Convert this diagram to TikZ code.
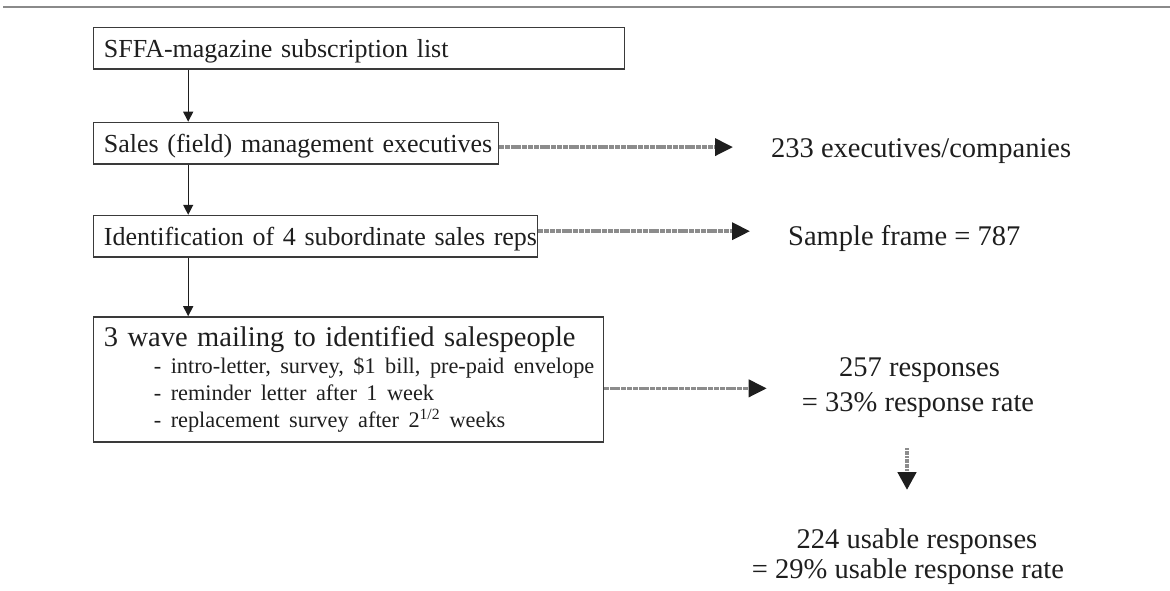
\documentclass[tikz,border=0pt]{standalone}
\usepackage{fontspec}
\setmainfont{Liberation Serif}
\usetikzlibrary{arrows.meta}

\definecolor{ink}{HTML}{1E1E1E}
\definecolor{frame}{HTML}{3A3A3A}
\definecolor{rulegray}{HTML}{8A8A8A}
\definecolor{flowgray}{HTML}{8C8C8C}

\tikzset{
  stepbox/.style={draw=frame, line width=1.3pt, anchor=north west, align=left,
    inner xsep=10.5pt, inner ysep=0pt, text=ink,
    font=\fontsize{26}{27}\selectfont},
  onelinebox/.style={stepbox, text height=30.5pt, text depth=11pt},
  result/.style={inner sep=0pt, text=ink, font=\fontsize{28.5}{34}\selectfont},
  downflow/.style={draw=ink, line width=1.2pt,
    -{Triangle[length=10pt,width=10pt]}},
  sideflow/.style={draw=flowgray, line width=3.6pt, dash pattern=on 5pt off 0.8pt,
    -{Triangle[length=18pt,width=17pt,color=ink]}},
  resultflow/.style={draw=flowgray, line width=4.5pt, dash pattern=on 2pt off 0.6pt,
    -{Triangle[length=18pt,width=18pt,color=ink]}}
}
% one unbroken line of a box, indented for the sub-items
\newcommand{\subitemline}[1]{\mbox{\fontsize{22.3}{27}\selectfont\hspace*{50pt}#1}}

\begin{document}
\begin{tikzpicture}[x=1pt,y=-1pt]
  \useasboundingbox (0,0) rectangle (1170,590);

  % heading rule
  \draw[rulegray, line width=2pt] (3,7) -- (1170,7);

  % left column: selection steps
  \node[onelinebox, text width=510.3pt] (list) at (92.7,26.7)
    {\mbox{SFFA-magazine subscription list}};
  \node[onelinebox, text width=384pt] (exec) at (92.7,121.7)
    {\mbox{Sales (field) management executives}};
  \node[onelinebox, text width=423.3pt] (reps) at (92.7,214.8)
    {\mbox{Identification of 4 subordinate sales reps}};
  \node[stepbox, text width=488.8pt, minimum height=125pt,
        font=\fontsize{28.5}{27}\selectfont] (mail) at (92.7,316.2)
    {\mbox{3 wave mailing to identified salespeople}\\
     \subitemline{- intro-letter, survey, \$1 bill, pre-paid envelope}\\
     \subitemline{- reminder letter after 1 week}\\
     \subitemline{- replacement survey after 2\textsuperscript{1/2} weeks}};

  % right column: counts
  \node[result, anchor=base west] (firms) at (771,157) {233 executives/companies};
  \node[result, anchor=base west] (frame) at (788,245) {Sample frame = 787};
  \node[result, anchor=base] (resp) at (919.5,376.7) {257 responses};
  \node[result, anchor=base] (rate) at (918,411) {= 33\% response rate};
  \node[result, anchor=base] (usable) at (917,548) {224 usable responses};
  \node[result, anchor=base] (urate) at (908,578) {= 29\% usable response rate};

  % flow between steps
  \draw[downflow] ([xshift=95.5pt]list.south west) -- ([xshift=95.5pt]exec.north west);
  \draw[downflow] ([xshift=95.5pt]exec.south west) -- ([xshift=95.5pt]reps.north west);
  \draw[downflow] ([xshift=95.5pt]reps.south west) -- ([xshift=95.5pt]mail.north west);

  % flow to the counts
  \draw[sideflow, shorten >=38pt] ([yshift=-4pt]exec.east) -- ([yshift=-4pt]exec.east -| firms.west);
  \draw[sideflow, shorten >=38pt] ([yshift=5pt]reps.east) -- ([yshift=5pt]reps.east -| frame.west);
  \draw[sideflow, shorten >=35pt] ([yshift=-9pt]mail.east) -- ([yshift=-9pt]mail.east -| rate.west);
  \draw[resultflow, shorten <=31pt, shorten >=38pt]
    ([xshift=-11pt]rate.south) -- ([xshift=-11pt]rate.south |- usable.north);
\end{tikzpicture}
\end{document}
